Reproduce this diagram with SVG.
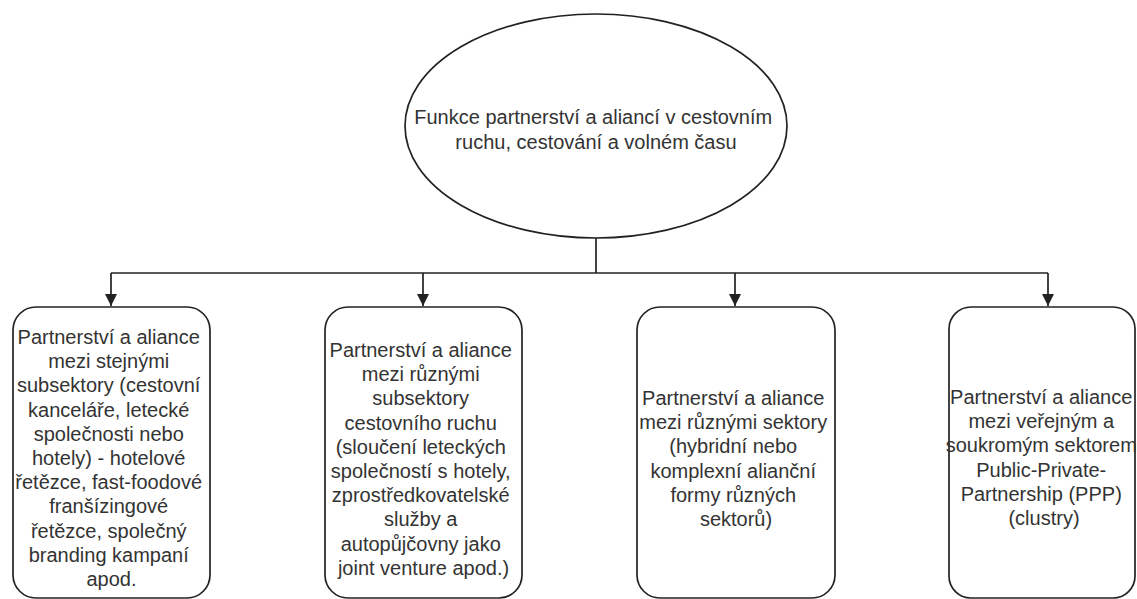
<svg xmlns="http://www.w3.org/2000/svg" width="1137" height="599" viewBox="0 0 1137 599">
  <style>
    .shape { fill: #ffffff; stroke: #222222; stroke-width: 1.7; }
    .edge { fill: none; stroke: #222222; stroke-width: 1.7; }
    .label { font-family: "Liberation Sans", Arial, sans-serif; font-size: 20px; fill: #333333; text-anchor: middle; }
  </style>
  <defs>
    <marker id="arrow" viewBox="0 0 12 12" refX="12" refY="6" markerWidth="12" markerHeight="12" markerUnits="userSpaceOnUse" orient="auto">
      <path d="M0,0 L12,6 L0,12 Z" fill="#222222"/>
    </marker>
  </defs>
  <rect width="1137" height="599" fill="#ffffff"/>

  <!-- connectors: trunk from the root, bus line, and four drops -->
  <g id="connectors">
    <path class="edge" d="M596,238 V273"/>
    <path class="edge" d="M111,273 H1048"/>
    <path class="edge" d="M111,273 V306" marker-end="url(#arrow)"/>
    <path class="edge" d="M423,273 V306" marker-end="url(#arrow)"/>
    <path class="edge" d="M735,273 V306" marker-end="url(#arrow)"/>
    <path class="edge" d="M1048,273 V306" marker-end="url(#arrow)"/>
  </g>

  <g id="root">
    <ellipse class="shape" cx="596" cy="126" rx="191" ry="112"/>
    <text class="label" x="596">
      <tspan x="596" y="124">Funkce partnerství a aliancí v cestovním</tspan>
      <tspan x="596" y="149">ruchu, cestování a volném času</tspan>
    </text>
  </g>

  <g id="same-subsectors">
    <rect class="shape" x="13" y="307" width="197" height="291" rx="23" ry="23"/>
    <text class="label">
      <tspan x="111.5" y="344">Partnerství a aliance</tspan>
      <tspan x="111.5" y="368.2">mezi stejnými</tspan>
      <tspan x="111.5" y="392.4">subsektory (cestovní</tspan>
      <tspan x="111.5" y="416.6">kanceláře, letecké</tspan>
      <tspan x="111.5" y="440.8">společnosti nebo</tspan>
      <tspan x="111.5" y="465">hotely) - hotelové</tspan>
      <tspan x="111.5" y="489.2">řetězce, fast-foodové</tspan>
      <tspan x="111.5" y="513.4">franšízingové</tspan>
      <tspan x="111.5" y="537.6">řetězce, společný</tspan>
      <tspan x="111.5" y="561.8">branding kampaní</tspan>
      <tspan x="111.5" y="586">apod.</tspan>
    </text>
  </g>

  <g id="different-subsectors">
    <rect class="shape" x="325" y="307" width="197" height="291" rx="23" ry="23"/>
    <text class="label">
      <tspan x="423.5" y="357">Partnerství a aliance</tspan>
      <tspan x="423.5" y="381.2">mezi různými</tspan>
      <tspan x="423.5" y="405.4">subsektory</tspan>
      <tspan x="423.5" y="429.6">cestovního ruchu</tspan>
      <tspan x="423.5" y="453.8">(sloučení leteckých</tspan>
      <tspan x="423.5" y="478">společností s hotely,</tspan>
      <tspan x="423.5" y="502.2">zprostředkovatelské</tspan>
      <tspan x="423.5" y="526.4">služby a</tspan>
      <tspan x="423.5" y="550.6">autopůjčovny jako</tspan>
      <tspan x="423.5" y="574.8">joint venture apod.)</tspan>
    </text>
  </g>

  <g id="different-sectors">
    <rect class="shape" x="637" y="307" width="198" height="291" rx="23" ry="23"/>
    <text class="label">
      <tspan x="736" y="405">Partnerství a aliance</tspan>
      <tspan x="736" y="429.2">mezi různými sektory</tspan>
      <tspan x="736" y="453.4">(hybridní nebo</tspan>
      <tspan x="736" y="477.6">komplexní alianční</tspan>
      <tspan x="736" y="501.8">formy různých</tspan>
      <tspan x="736" y="526">sektorů)</tspan>
    </text>
  </g>

  <g id="public-private">
    <rect class="shape" x="949" y="307" width="186" height="291" rx="22" ry="22"/>
    <text class="label">
      <tspan x="1044" y="404">Partnerství a aliance</tspan>
      <tspan x="1044" y="428.2">mezi veřejným a</tspan>
      <tspan x="1044" y="452.4">soukromým sektorem</tspan>
      <tspan x="1044" y="476.6">Public-Private-</tspan>
      <tspan x="1044" y="500.8">Partnership (PPP)</tspan>
      <tspan x="1044" y="525">(clustry)</tspan>
    </text>
  </g>
</svg>
